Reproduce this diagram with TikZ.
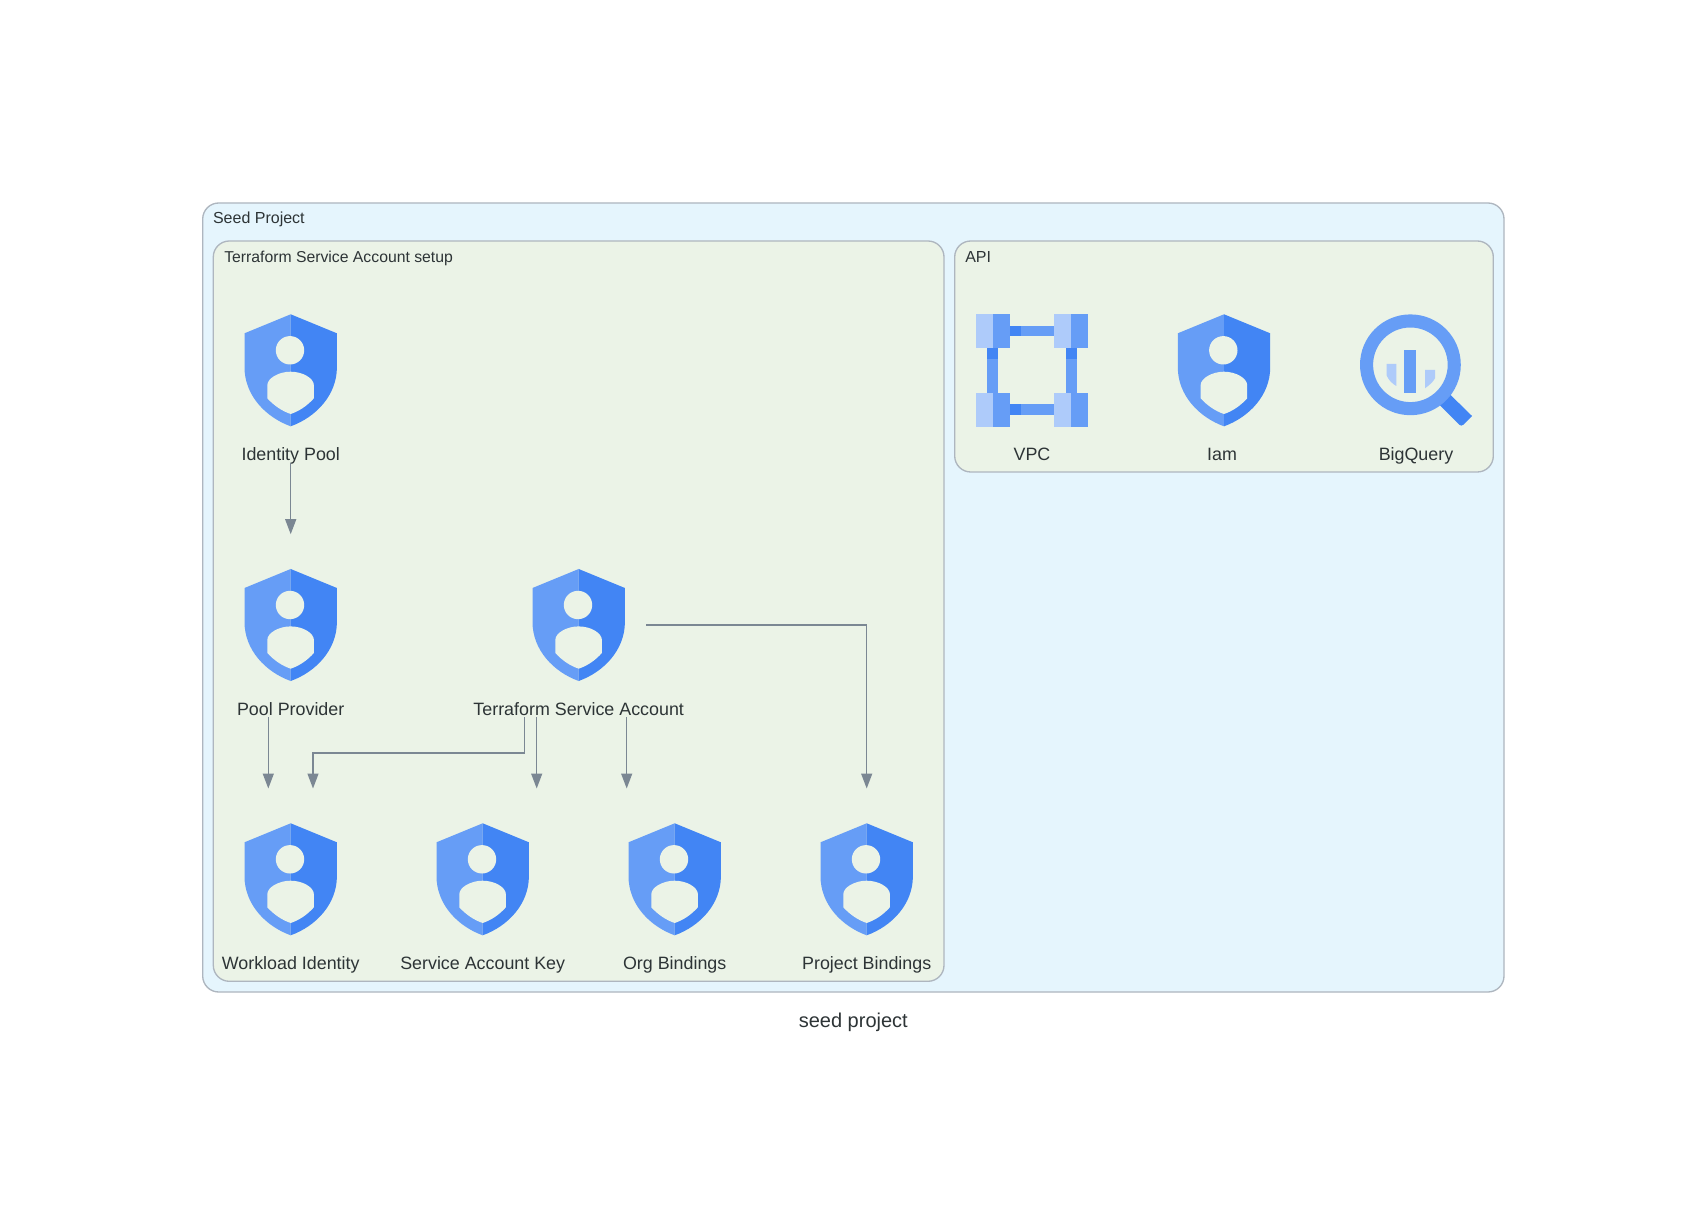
\documentclass[tikz,border=0pt]{standalone}
\usepackage{fontspec}
\setmainfont{Liberation Sans}
\usetikzlibrary{arrows.meta}
\usetikzlibrary{positioning}
\usetikzlibrary{calc}

\definecolor{seedfill}{HTML}{E5F5FD}
\definecolor{groupfill}{HTML}{EBF3E7}
\definecolor{framegray}{HTML}{AEB6BF}
\definecolor{edgegray}{HTML}{7B8793}
\definecolor{inkgray}{HTML}{2D3436}
\definecolor{gblue}{HTML}{4285F4}
\definecolor{gmid}{HTML}{669DF6}
\definecolor{glight}{HTML}{AECBFA}

\tikzset{
    seedbox/.style={draw=framegray, fill=seedfill, line width=1pt, rounded corners=12pt},
    groupbox/.style={draw=framegray, fill=groupfill, line width=1pt, rounded corners=12pt},
    svcnode/.style={minimum width=101pt, minimum height=138pt, inner sep=0pt},
    svctext/.style={font=\fontsize{13.4pt}{16pt}\selectfont, text=inkgray, inner sep=0pt, text depth=0pt},
    titletext/.style={font=\fontsize{12pt}{14pt}\selectfont, text=inkgray, inner sep=0pt, anchor=base west},
    flow/.style={draw=edgegray, line width=1pt, shorten >=-1.1pt, -{Triangle[length=11.25pt, width=8.25pt]}},
    pics/shield/.style={code={
        \fill[gmid] (0,-56) -- (-46.2,-37) -- (-46.2,-3)
            .. controls (-46.2,25) and (-25,47) .. (0,56) -- cycle;
        \fill[gblue] (0,-56) -- (46.2,-37) -- (46.2,-3)
            .. controls (46.2,25) and (25,47) .. (0,56) -- cycle;
        \fill[groupfill] (-0.7,-20) circle (14.2);
        \fill[groupfill] (0,1.4) .. controls (-12,1.4) and (-23.4,8) .. (-23.4,15)
            -- (-23.4,28) .. controls (-16,36) and (-8,41) .. (0,43.7)
            .. controls (8,41) and (16,36) .. (23.2,28) -- (23.2,15)
            .. controls (23.2,8) and (12,1.4) .. (0,1.4) -- cycle;
    }},
    pics/vpcicon/.style={code={
        % bars first, blocks on top
        \fill[gmid] (-22.3,-44.8) rectangle (22.3,-34.2);
        \fill[gblue] (-22.3,-44.8) rectangle (-11,-34.2);
        \fill[gmid] (-22.3,33.5) rectangle (22.3,44.5);
        \fill[gblue] (-22.3,33.5) rectangle (-11,44.5);
        \fill[gmid] (-44.7,-22.5) rectangle (-33.7,22.5);
        \fill[gblue] (-44.7,-22.5) rectangle (-33.7,-11.5);
        \fill[gmid] (33.7,-22.5) rectangle (44.7,22.5);
        \fill[gblue] (33.7,-22.5) rectangle (44.7,-11.5);
        \fill[glight] (-56,-56.2) rectangle (-39,-22.5);
        \fill[gmid] (-39,-56.2) rectangle (-22.3,-22.5);
        \fill[glight] (22.3,-56.2) rectangle (39,-22.5);
        \fill[gmid] (39,-56.2) rectangle (56,-22.5);
        \fill[glight] (-56,22.5) rectangle (-39,56.2);
        \fill[gmid] (-39,22.5) rectangle (-22.3,56.2);
        \fill[glight] (22.3,22.5) rectangle (39,56.2);
        \fill[gmid] (39,22.5) rectangle (56,56.2);
    }},
    pics/bigqueryicon/.style={code={
        \fill[gblue] (25,17) -- (31,21) -- (56,45.5) [rounded corners=2pt] -- (45.3,56.2) -- (20,31) -- cycle;
        \fill[gmid, even odd rule] (-5.6,-5.7) circle (50.4) (-5.6,-5.7) circle (37.3);
        \fill[gmid] (-12,-20.5) rectangle (0,22.2);
        \fill[glight] (-29.3,-6.5) -- (-19.7,-6.5) -- (-19.7,15.5)
            .. controls (-24,13) and (-27.5,9.5) .. (-29.3,5) -- cycle;
        \fill[glight] (9,-0.5) -- (19,-0.5) -- (19,7.8)
            .. controls (17,11.5) and (13,15) .. (9,17.8) -- cycle;
    }},
}

\begin{document}
\begin{tikzpicture}[x=0.75pt, y=-0.75pt]

    \useasboundingbox[fill=white] (0,0) rectangle (1707,1226);

    % clusters
    \draw[seedbox] (202.7,203) rectangle (1504,992);
    \draw[groupbox] (213.3,241) rectangle (944,981.3);
    \draw[groupbox] (954.7,241) rectangle (1493.3,472);
    \node[titletext] (seedtitle) at (212.8,223.3) {Seed Project};
    \node[titletext, font=\fontsize{11.82pt}{14pt}\selectfont] (tsatitle) at (224,263) {Terraform Service Account setup};
    \node[titletext] (apititle) at (965,263) {API};

    \node[svcnode] (idpool) at (290.7,370.3) {};
    \node[svcnode] (provider) at (290.7,625) {};
    \node[svcnode] (tsa) at (578.7,625) {};
    \node[svcnode] (workload) at (290.7,879.3) {};
    \node[svcnode] (sakey) at (482.7,879.3) {};
    \node[svcnode] (orgbind) at (674.7,879.3) {};
    \node[svcnode] (projbind) at (866.7,879.3) {};
    \node[svcnode] (vpc) at (1032,370.5) {};
    \node[svcnode] (iam) at (1224,370.3) {};
    \node[svcnode] (bigquery) at (1416,370.5) {};

    \pic at (idpool.center) {shield};
    \pic at (provider.center) {shield};
    \pic at (tsa.center) {shield};
    \pic at (workload.center) {shield};
    \pic at (sakey.center) {shield};
    \pic at (orgbind.center) {shield};
    \pic at (projbind.center) {shield};
    \pic at (iam.center) {shield};
    \pic at (vpc.center) {vpcicon};
    \pic at (bigquery.center) {bigqueryicon};

    \node[svctext] (idpooltext) [above=1.5pt of idpool.south] {Identity Pool};
    \node[svctext] (providertext) [above=1.5pt of provider.south] {Pool Provider};
    \node[svctext] (tsatext) [above=1.5pt of tsa.south] {Terraform Service Account};
    \node[svctext] (workloadtext) [above=1.5pt of workload.south] {Workload Identity};
    \node[svctext] (sakeytext) [above=1.5pt of sakey.south] {Service Account Key};
    \node[svctext] (orgbindtext) [above=1.5pt of orgbind.south] {Org Bindings};
    \node[svctext] (projbindtext) [above=1.5pt of projbind.south] {Project Bindings};
    \node[svctext] (vpctext) [above=1.5pt of vpc.south] {VPC};
    \node[svctext] (iamtext) [above=1.5pt of iam.south, xshift=-1.5pt] {Iam};
    \node[svctext] (bigquerytext) [above=1.5pt of bigquery.south] {BigQuery};

    \node[font=\fontsize{15pt}{18pt}\selectfont, text=inkgray, inner sep=0pt, anchor=base] (caption) at (853.3,1027.7) {seed project};

    \draw[flow] (idpool.south) -- (provider.north);
    \draw[flow] ($(provider.south)+(-22.4,0)$) -- ($(workload.north)+(-22.4,0)$);
    \draw[flow] ($(tsa.south)+(-54.4,0)$) -- ++(0,35.7) -| ($(workload.north)+(22.3,0)$);
    \draw[flow] ($(tsa.south)+(-42,0)$) -- ($(sakey.north)+(54,0)$);
    \draw[flow] ($(tsa.south)+(48,0)$) -- ($(orgbind.north)+(-48,0)$);
    \draw[flow] (tsa.east) -| (projbind.north);

\end{tikzpicture}
\end{document}
